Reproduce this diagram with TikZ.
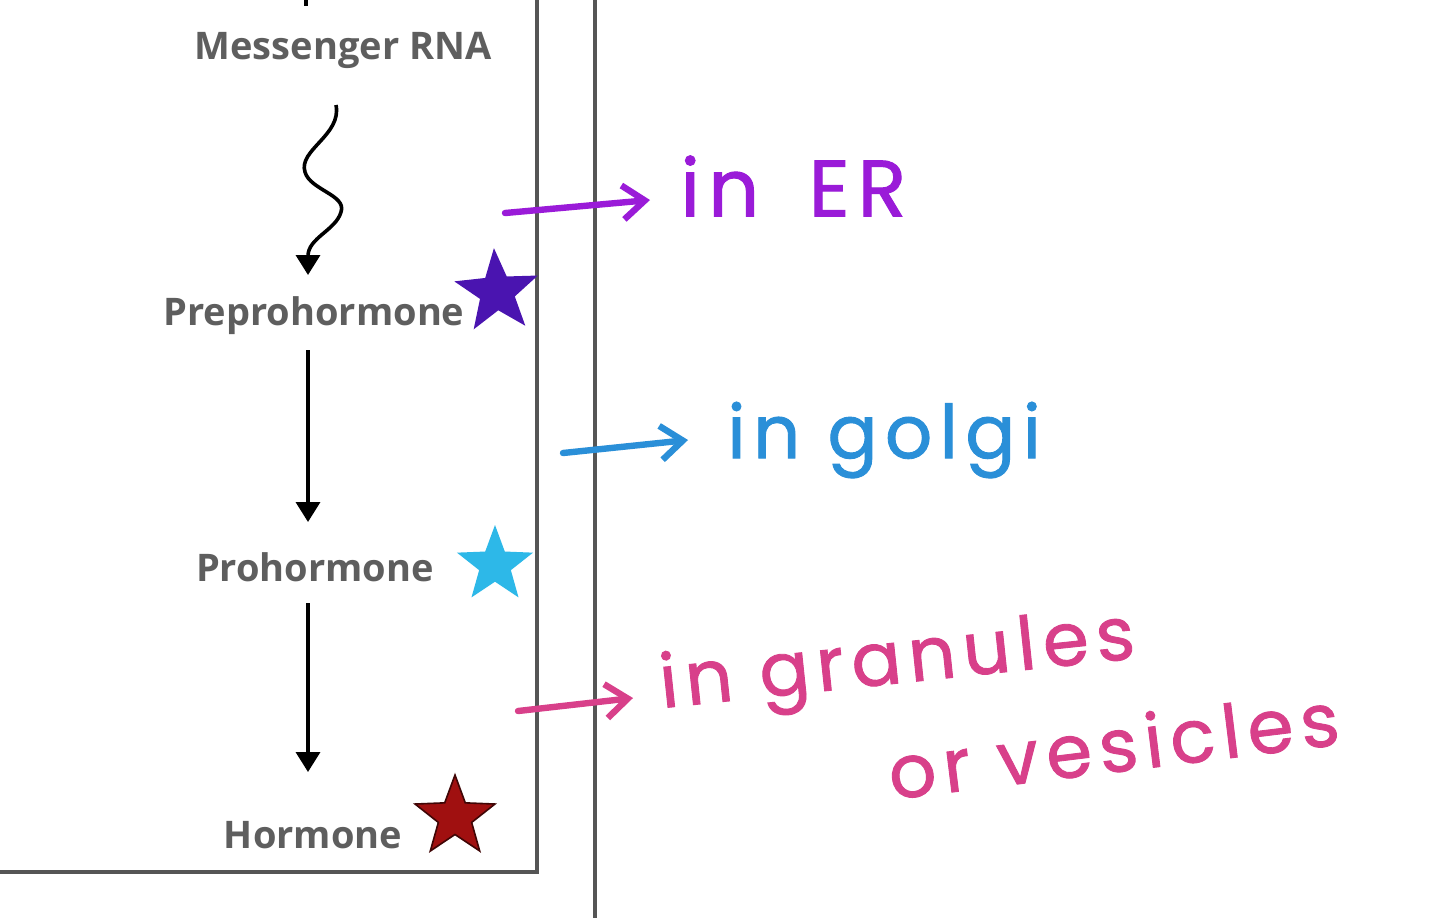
\documentclass[tikz,border=0pt]{standalone}
\usepackage{fontspec}
\setmainfont{Open Sans}
\newfontfamily\hand[LetterSpace=10,FakeBold=1.2]{Poppins}
\usetikzlibrary{arrows.meta,shapes.geometric}
\definecolor{txtgray}{HTML}{5E5E5E}
\definecolor{linegray}{HTML}{555555}
\definecolor{erpurple}{HTML}{9A1BD8}
\definecolor{golgiblue}{HTML}{2A8FD8}
\definecolor{granpink}{HTML}{D8408A}
\definecolor{starpurple}{HTML}{4A14B0}
\definecolor{starcyan}{HTML}{2DB8E8}
\definecolor{starred}{HTML}{A01010}
\begin{document}
\begin{tikzpicture}[x=0.5pt,y=-0.5pt,
  label/.style={font=\fontsize{19}{22}\selectfont\bfseries, text=txtgray, inner sep=0pt},
  flow/.style={line width=1.8pt, black, -{Triangle[length=10pt,width=12pt]}},
  hnote/.style={font=\hand\fontsize{37}{40}\selectfont, inner sep=0pt, anchor=west},
  harrow/.style={line width=3.2pt, line cap=round, -{Straight Barb[length=11pt,width=17pt,line width=3.2pt]}},
  starshape/.style={star, star points=5, star point ratio=2.4, inner sep=0pt}
]
\useasboundingbox (0,0) rectangle (1440,918);
\fill[white] (0,0) rectangle (1440,918);
% frame lines
\coordinate (boxTR) at (537,0);
\coordinate (boxBR) at (537,872);
\coordinate (boxBL) at (0,872);
\draw[linegray, line width=1.8pt] (boxTR) -- (boxBR) -- (boxBL);
\coordinate (sepT) at (595,0);
\coordinate (sepB) at (595,918);
\draw[linegray, line width=1.8pt] (sepT) -- (sepB);
% top stub
\coordinate (stubT) at (306,-2);
\coordinate (stubB) at (306,6);
\draw[black, line width=1.6pt] (stubT) -- (stubB);
% labels
\node[label] (mrna) at (343,50) {Messenger RNA};
\node[label] (prepro) at (314,316) {Preprohormone};
\node[label] (pro) at (315,567) {Prohormone};
\node[label] (hor) at (313,835) {Hormone};
% wavy arrow
\coordinate (w0) at (336,105);
\coordinate (w2) at (308,275);
\draw[flow] (w0) .. controls (342,135) and (298,150) .. (305,172)
  .. controls (310,190) and (347,195) .. (341,212)
  .. controls (336,230) and (308,238) .. (w2);
% straight arrows
\coordinate (a1s) at (308,350);
\coordinate (a1e) at (308,522);
\draw[flow] (a1s) -- (a1e);
\coordinate (a2s) at (308,603);
\coordinate (a2e) at (308,772);
\draw[flow] (a2s) -- (a2e);
% stars
\node[starshape, fill=starpurple, minimum size=44pt, rotate=4] (s1) at (497,292) {};
\node[starshape, fill=starcyan, minimum size=40pt] (s2) at (495,565) {};
\node[starshape, fill=starred, draw=black!60!starred, line width=0.8pt, minimum size=42pt] (s3) at (455,817) {};
% handwritten notes
\coordinate (e0) at (505,213);
\coordinate (e1) at (650,200);
\draw[harrow, erpurple] (e0) -- (e1);
\node[hnote, text=erpurple, font=\hand\fontsize{40}{44}\selectfont] (er) at (680,186) {in \hspace{10pt}ER};
\coordinate (g0) at (563,453);
\coordinate (g1) at (688,440);
\draw[harrow, golgiblue] (g0) -- (g1);
\node[hnote, text=golgiblue] (golgi) at (727,440) {in golgi};
\coordinate (p0) at (518,711);
\coordinate (p1) at (633,698);
\draw[harrow, granpink] (p0) -- (p1);
\node[hnote, text=granpink, rotate=6] (gran) at (660,690) {in granules};
\node[hnote, text=granpink, rotate=7] (ves) at (888,772) {or vesicles};
\end{tikzpicture}
\end{document}
